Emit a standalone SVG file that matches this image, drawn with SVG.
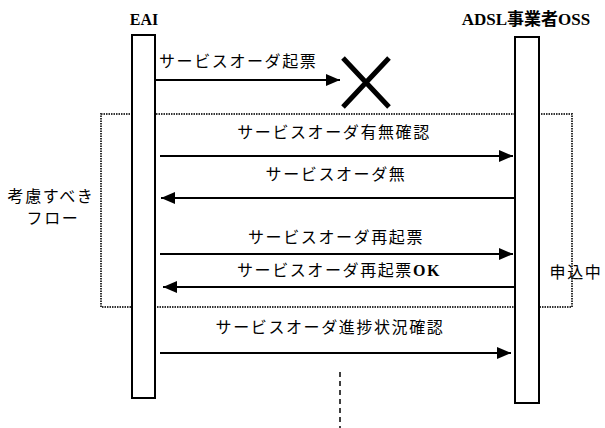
<svg xmlns="http://www.w3.org/2000/svg" width="605" height="428" viewBox="0 0 605 428">
<defs>
<style>
.bar{fill:#fff;stroke:#000;stroke-width:2}
.hdr{font-family:"Liberation Serif","Noto Sans CJK JP",serif;font-size:16px;font-weight:bold;fill:#000}
.lbl{font-family:"Liberation Serif","Noto Sans CJK JP",sans-serif;font-size:16px;letter-spacing:1.6px;fill:#000}
.msg{stroke:#000;stroke-width:2;fill:none}
.frame{fill:none;stroke:#333;stroke-width:2;stroke-dasharray:1.5 1}
</style>
<marker id="ah" markerUnits="userSpaceOnUse" markerWidth="16" markerHeight="12" refX="14" refY="6" orient="auto">
<path d="M0,0 L14,6 L0,12 Z" fill="#000"/>
</marker>
</defs>
<rect width="605" height="428" fill="#fff"/>
<g id="frame">
<rect class="frame" x="101" y="114" width="471" height="193"/>
<text class="lbl" x="51" y="202" text-anchor="middle">考慮すべき</text>
<text class="lbl" x="53" y="224" text-anchor="middle">フロー</text>
</g>
<g id="eai">
<text class="hdr" x="144" y="25" text-anchor="middle">EAI</text>
<rect class="bar" x="132" y="35" width="23" height="363"/>
</g>
<g id="oss">
<text class="hdr" x="526" y="25" text-anchor="middle" style="font-size:17px">ADSL事業者OSS</text>
<rect class="bar" x="515" y="37" width="24" height="366"/>
</g>
<g id="state">
<text class="lbl" x="576" y="278" text-anchor="middle">申込中</text>
</g>
<g id="cancel">
<path d="M343,58 L389,107 M389,58 L343,107" stroke="#000" stroke-width="5" fill="none"/>
</g>
<g id="connectors">
<line class="msg" x1="156" y1="80" x2="340" y2="80" marker-end="url(#ah)"/>
<text class="lbl" x="159" y="67">サービスオーダ起票</text>
<line class="msg" x1="160" y1="156" x2="513" y2="156" marker-end="url(#ah)"/>
<text class="lbl" x="334" y="138" text-anchor="middle">サービスオーダ有無確認</text>
<line class="msg" x1="514" y1="198" x2="161" y2="198" marker-end="url(#ah)"/>
<text class="lbl" x="336" y="180" text-anchor="middle">サービスオーダ無</text>
<line class="msg" x1="160" y1="254" x2="513" y2="254" marker-end="url(#ah)"/>
<text class="lbl" x="336" y="243" text-anchor="middle">サービスオーダ再起票</text>
<line class="msg" x1="514" y1="287" x2="163" y2="287" marker-end="url(#ah)"/>
<text class="lbl" x="339" y="276" text-anchor="middle">サービスオーダ再起票<tspan font-weight="bold">OK</tspan></text>
<line class="msg" x1="160" y1="353" x2="511" y2="353" marker-end="url(#ah)"/>
<text class="lbl" x="330" y="333" text-anchor="middle">サービスオーダ進捗状況確認</text>
<line x1="340" y1="372" x2="340" y2="428" stroke="#000" stroke-width="1.5" stroke-dasharray="5 4"/>
</g>
</svg>
